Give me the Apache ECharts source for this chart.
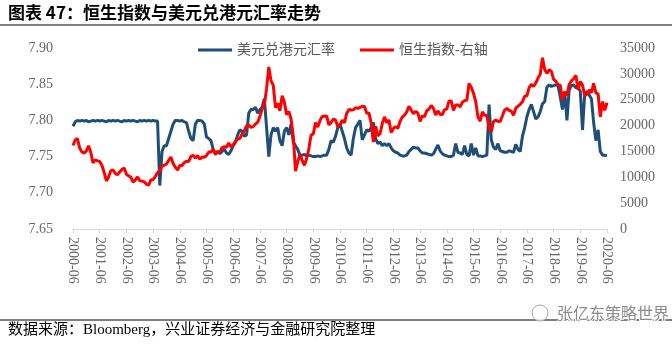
<!DOCTYPE html>
<html><head><meta charset="utf-8">
<script src="https://cdn.jsdelivr.net/npm/echarts@6/dist/echarts.min.js"></script>
<style>html,body{margin:0;padding:0;background:#fff}#c{width:672px;height:345px}</style>
</head><body><div id="c"></div>
<script>
// monthly categories 2000-06 .. 2020-06
const categories = [];
for (let y = 2000; y <= 2020; y++) {
  for (let m = 1; m <= 12; m++) {
    if ((y === 2000 && m < 6) || (y === 2020 && m > 6)) continue;
    categories.push(y + '-' + (m < 10 ? '0' + m : '' + m));
  }
}
const seriesNames = ['美元兑港元汇率', '恒生指数-右轴'];
// USD/HKD (left axis)
const usdhkd = [
  7.792, 7.798, 7.800, 7.799, 7.800, 7.799, 7.800,
  7.798, 7.799, 7.800, 7.799, 7.800, 7.799, 7.800, 7.799, 7.798, 7.800, 7.799, 7.800,
  7.799, 7.800, 7.799, 7.798, 7.800, 7.799, 7.800, 7.799, 7.800, 7.799, 7.798, 7.800,
  7.799, 7.800, 7.799, 7.800, 7.799, 7.800, 7.799, 7.799, 7.710, 7.757, 7.765, 7.765,
  7.775, 7.785, 7.795, 7.800, 7.800, 7.799, 7.800, 7.798, 7.797, 7.785, 7.775, 7.772,
  7.795, 7.800, 7.800, 7.799, 7.795, 7.777, 7.775, 7.772, 7.760, 7.755, 7.757, 7.754,
  7.757, 7.760, 7.755, 7.753, 7.758, 7.765, 7.770, 7.780, 7.787, 7.785, 7.778, 7.780,
  7.810, 7.815, 7.815, 7.818, 7.810, 7.815, 7.818, 7.830, 7.790, 7.750, 7.780, 7.790,
  7.785, 7.790, 7.772, 7.765, 7.785, 7.790, 7.780, 7.795, 7.770, 7.765, 7.760, 7.752,
  7.752, 7.753, 7.751, 7.752, 7.751, 7.750, 7.750, 7.751, 7.750, 7.751, 7.752, 7.752,
  7.760, 7.772, 7.770, 7.778, 7.790, 7.795, 7.785, 7.775, 7.762, 7.755, 7.752, 7.775,
  7.790, 7.795, 7.800, 7.773, 7.780, 7.787, 7.785, 7.790, 7.797, 7.775, 7.768, 7.770,
  7.765, 7.768, 7.765, 7.768, 7.762, 7.758, 7.756, 7.755, 7.752, 7.751, 7.751, 7.752,
  7.757, 7.760, 7.763, 7.762, 7.762, 7.758, 7.755, 7.755, 7.754, 7.753, 7.752, 7.754,
  7.760, 7.766, 7.758, 7.754, 7.752, 7.751, 7.750, 7.750, 7.752, 7.768, 7.756, 7.755,
  7.753, 7.765, 7.753, 7.751, 7.768, 7.752, 7.762, 7.751, 7.751, 7.750, 7.751, 7.752,
  7.822, 7.773, 7.763, 7.760, 7.768, 7.758, 7.757, 7.756, 7.756, 7.758, 7.757, 7.756,
  7.767, 7.760, 7.757, 7.778, 7.790, 7.805, 7.815, 7.822, 7.812, 7.802, 7.805, 7.812,
  7.823, 7.826, 7.846, 7.849, 7.847, 7.848, 7.849, 7.848, 7.832, 7.815, 7.840, 7.800,
  7.842, 7.848, 7.849, 7.845, 7.846, 7.840, 7.787, 7.838, 7.840, 7.835, 7.830, 7.797,
  7.772, 7.787, 7.757, 7.752, 7.752, 7.751
];
// Hang Seng Index (right axis)
const hsi = [
  16155, 17200, 17500, 15649, 14895, 14676, 15096,
  16102, 14788, 12761, 13387, 13174, 13043, 12316, 10929, 9300, 10073, 11279, 11397,
  10725, 10482, 11033, 11498, 11800, 10598, 10268, 10044, 9072, 9441, 10069, 9321,
  9258, 9123, 8634, 8500, 9487, 9577, 10134, 10908, 11230, 12190, 12317, 12576,
  13289, 13907, 12681, 11942, 11400, 12286, 12238, 12850, 13120, 13054, 14060, 14230,
  13721, 14196, 13516, 13908, 13867, 14201, 14880, 14904, 15429, 14386, 14937, 14876,
  15753, 15918, 15805, 16661, 15858, 16267, 16971, 17392, 17543, 18324, 18960, 19965,
  20106, 19652, 19801, 20319, 20635, 21773, 23185, 23984, 27142, 31352, 28643, 27813,
  23456, 24332, 22849, 25755, 24533, 22102, 22731, 21262, 18016, 11200, 13000, 14387,
  13278, 12300, 13576, 15521, 18171, 18379, 20573, 19724, 20955, 21753, 21822, 21873,
  20122, 20609, 21239, 21108, 19765, 20129, 21030, 20537, 22359, 23096, 23008, 23035,
  23447, 23338, 23528, 23720, 23684, 22398, 22440, 20535, 16800, 19864, 17989, 18434,
  20390, 21680, 20556, 21094, 18630, 19441, 19796, 19482, 20840, 21642, 22030, 22657,
  23730, 23020, 22300, 22737, 22392, 20803, 21883, 21731, 22860, 23206, 23881, 23306,
  22035, 22837, 22151, 22134, 23082, 23191, 24757, 24742, 22933, 23998, 23987, 23605,
  24507, 24823, 24901, 28133, 27424, 26250, 24636, 21671, 20846, 22640, 21996, 21914,
  19683, 18800, 20777, 21067, 20815, 20794, 21891, 23023, 23297, 22935, 22790, 22001,
  23361, 23741, 24112, 24615, 25661, 25765, 27323, 27970, 27554, 28246, 29177, 29919,
  33100, 30845, 30093, 30808, 30469, 28955, 28583, 27889, 27789, 24980, 26507, 25846,
  27942, 28633, 29051, 29699, 26901, 28543, 27778, 25725, 26092, 26906, 26346, 28190,
  26313, 26130, 21700, 24644, 22961, 24427
];
const titleText = '图表 47：恒生指数与美元兑港元汇率走势';
const sourceText = '数据来源：Bloomberg，兴业证券经济与金融研究院整理';
const watermarkText = '张亿东策略世界';

const serif = '"Liberation Serif", "Noto Sans CJK SC", serif';
const chart = echarts.init(document.getElementById('c'));
chart.setOption({
  animation: false,
  backgroundColor: '#fff',
  grid: { left: 73, right: 65, top: 48, bottom: 116 },
  legend: {
    left: 193, top: 38,
    itemWidth: 34, itemHeight: 3, itemGap: 25, icon: 'rect',
    textStyle: { fontFamily: serif, fontSize: 14, color: '#595959' },
    data: seriesNames
  },
  xAxis: {
    type: 'category', data: categories, boundaryGap: false,
    axisLine: { lineStyle: { color: '#d9d9d9', width: 1 } },
    axisTick: { interval: 11, length: 4, lineStyle: { color: '#d9d9d9' } },
    axisLabel: { interval: 11, rotate: -90, margin: 8, fontFamily: serif, fontSize: 14, color: '#666' }
  },
  yAxis: [
    { type: 'value', min: 7.65, max: 7.90, interval: 0.05,
      axisLine: { show: false }, axisTick: { show: false }, splitLine: { show: false },
      axisLabel: { margin: 20, fontFamily: serif, fontSize: 14, color: '#666',
        formatter: v => v.toFixed(2) } },
    { type: 'value', min: 0, max: 35000, interval: 5000, position: 'right',
      axisLine: { show: false }, axisTick: { show: false }, splitLine: { show: false },
      axisLabel: { margin: 13, fontFamily: serif, fontSize: 14, color: '#666',
        formatter: v => String(Math.round(v)) } }
  ],
  series: [
    { name: seriesNames[0], type: 'line', yAxisIndex: 0, data: usdhkd, showSymbol: false,
      lineStyle: { color: '#1F4E79', width: 3 }, itemStyle: { color: '#1F4E79' } },
    { name: seriesNames[1], type: 'line', yAxisIndex: 1, data: hsi, showSymbol: false,
      lineStyle: { color: '#FF0000', width: 3 }, itemStyle: { color: '#FF0000' } }
  ],
  graphic: [
    { type: 'text', left: 8, top: 4, style: { text: titleText, font: 'bold 17px "Noto Sans CJK SC", serif', fill: '#000' } },
    { type: 'line', shape: { x1: 0, y1: 25, x2: 672, y2: 25 }, style: { stroke: '#000', lineWidth: 1 } },
    { type: 'line', shape: { x1: 0, y1: 320, x2: 672, y2: 320 }, style: { stroke: '#000', lineWidth: 1 } },
    { type: 'text', left: 8, top: 323, style: { text: sourceText, font: '15px "Liberation Serif", "Noto Sans CJK SC", serif', fill: '#000' } },
    { type: 'circle', shape: { cx: 540, cy: 313, r: 8 }, style: { fill: 'rgba(255,255,255,0.8)', stroke: '#aaa', lineWidth: 1 } },
    { type: 'text', left: 556, top: 304, style: { text: watermarkText, font: '16px "Noto Sans CJK SC", sans-serif', fill: '#8c8c8c', stroke: '#fff', lineWidth: 2 } }
  ]
});
</script></body></html>
